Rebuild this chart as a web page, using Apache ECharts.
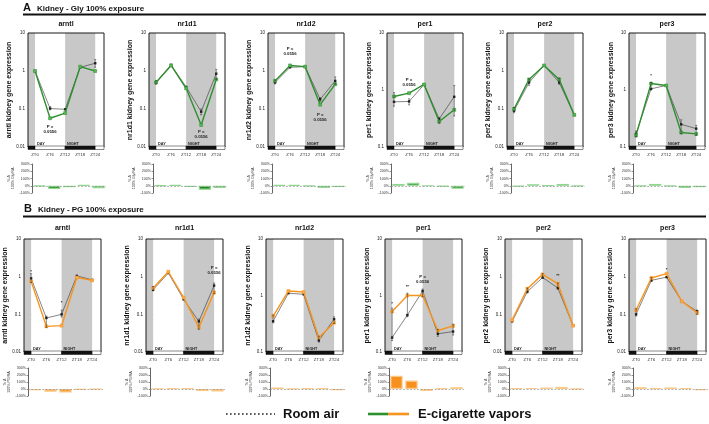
<!DOCTYPE html>
<html><head><meta charset="utf-8">
<script src="https://cdn.jsdelivr.net/npm/echarts@6/dist/echarts.min.js"></script>
<style>html,body{margin:0;padding:0;background:#fff}#c{width:709px;height:424px}</style>
</head><body><div id="c"></div>
<script>
// ---------- DATA ----------
const ZT = [0, 6, 12, 18, 24];
const genes = ['arntl', 'nr1d1', 'nr1d2', 'per1', 'per2', 'per3'];

// A: Gly 100% exposure (room air vs e-cig vapour), relative expression
const gly_arntl_ra = [1.0, 0.103, 0.098, 1.25, 1.6];
const gly_arntl_ev = [1.0, 0.057, 0.078, 1.3, 1.0];
const gly_nr1d1_ra = [0.5, 1.45, 0.38, 0.085, 0.85];
const gly_nr1d1_ev = [0.5, 1.4, 0.35, 0.038, 0.6];
const gly_nr1d2_ra = [0.5, 1.25, 1.3, 0.18, 0.55];
const gly_nr1d2_ev = [0.55, 1.4, 1.3, 0.13, 0.45];
const gly_per1_ra = [0.62, 0.63, 1.25, 0.31, 0.76];
const gly_per1_ev = [0.77, 0.88, 1.25, 0.28, 0.45];
const gly_per2_ra = [0.09, 0.5, 1.4, 0.5, 0.07];
const gly_per2_ev = [0.1, 0.6, 1.4, 0.6, 0.07];
const gly_per3_ra = [0.17, 1.05, 1.2, 0.25, 0.21];
const gly_per3_ev = [0.16, 1.3, 1.2, 0.18, 0.17];
// % change 100% Gly / RA
const gly_arntl_pct = [-5, -45, -20, 8, -35];
const gly_nr1d1_pct = [3, 8, -15, -55, -30];
const gly_nr1d2_pct = [10, 12, -3, -30, -18];
const gly_per1_pct = [25, 40, 0, -8, -40];
const gly_per2_pct = [-12, 20, 2, 25, -5];
const gly_per3_pct = [-3, 25, -5, -30, -20];

// B: PG 100% exposure
const pg_arntl_ra = [0.9, 0.08, 0.1, 1.05, 0.82];
const pg_arntl_ev = [0.75, 0.048, 0.05, 0.95, 0.8];
const pg_nr1d1_ra = [0.45, 1.25, 0.25, 0.065, 0.58];
const pg_nr1d1_ev = [0.5, 1.35, 0.28, 0.045, 0.38];
const pg_nr1d2_ra = [0.35, 1.1, 1.05, 0.16, 0.38];
const pg_nr1d2_ev = [0.43, 1.2, 1.15, 0.18, 0.33];
const pg_per1_ra = [0.18, 0.45, 1.2, 0.21, 0.23];
const pg_per1_ev = [0.52, 1.0, 1.0, 0.24, 0.29];
const pg_per2_ra = [0.065, 0.4, 0.95, 0.5, 0.05];
const pg_per2_ev = [0.07, 0.48, 1.15, 0.65, 0.05];
const pg_per3_ra = [0.1, 0.8, 0.97, 0.22, 0.12];
const pg_per3_ev = [0.13, 0.92, 1.2, 0.22, 0.11];
const pg_arntl_pct = [-15, -38, -50, -10, -2];
const pg_nr1d1_pct = [5, 8, 10, -30, -35];
const pg_nr1d2_pct = [22, 5, 8, 8, -18];
const pg_per1_pct = [190, 120, -28, 10, 25];
const pg_per2_pct = [10, 15, 20, 30, 2];
const pg_per3_pct = [25, 12, 22, 8, -15];

// error bars: [ZT, low, high]
const gly_arntl_err = [[24, 1.25, 2.0], [6, 0.095, 0.115]];
const gly_nr1d1_err = [[24, 0.6, 1.1], [18, 0.07, 0.1], [0, 0.45, 0.56]];
const gly_nr1d2_err = [[24, 0.45, 0.7], [18, 0.16, 0.2], [0, 0.46, 0.58]];
const gly_per1_err = [[0, 0.52, 0.9], [6, 0.55, 0.7], [24, 0.35, 1.2], [18, 0.26, 0.33]];
const gly_per2_err = [[6, 0.42, 0.62], [0, 0.08, 0.11], [18, 0.45, 0.65]];
const gly_per3_err = [[18, 0.17, 0.3], [24, 0.16, 0.24], [0, 0.15, 0.19], [6, 1.0, 1.35]];
const pg_arntl_err = [[0, 0.7, 1.2], [12, 0.085, 0.13], [6, 0.045, 0.09]];
const pg_nr1d1_err = [[24, 0.35, 0.68], [18, 0.04, 0.075], [0, 0.42, 0.55]];
const pg_nr1d2_err = [[24, 0.32, 0.42], [0, 0.33, 0.45], [18, 0.15, 0.19]];
const pg_per1_err = [[0, 0.16, 0.6], [6, 0.42, 1.1], [12, 0.95, 1.3], [18, 0.19, 0.25], [24, 0.2, 0.31]];
const pg_per2_err = [[6, 0.37, 0.5], [18, 0.47, 0.68], [12, 0.9, 1.2]];
const pg_per3_err = [[0, 0.09, 0.14], [6, 0.75, 0.95], [24, 0.1, 0.13]];

// annotations: [ZT, y, text]
const gly_arntl_note = [[6, 0.03, 'P =\n0.0556']];
const gly_nr1d1_note = [[18, 0.021, 'P =\n0.0556']];
const gly_nr1d2_note = [[6, 3.2, 'P =\n0.0556'], [18, 0.06, 'P =\n0.0556']];
const gly_per1_note = [[6, 1.35, 'P =\n0.0556']];
const gly_per2_note = [];
const gly_per3_note = [[6, 1.75, '*']];
const pg_arntl_note = [[0, 1.35, '*'], [12, 0.2, '*']];
const pg_nr1d1_note = [[24, 1.5, 'P =\n0.0556']];
const pg_nr1d2_note = [];
const pg_per1_note = [[0, 0.72, '*'], [6, 1.4, '**'], [12, 1.9, 'P =\n0.0556']];
const pg_per2_note = [[18, 1.05, '**']];
const pg_per3_note = [[12, 1.55, '*']];

const gly_ymin = [0.01, 0.01, 0.01, 0.1, 0.01, 0.1];
const pg_ymin = [0.01, 0.01, 0.1, 0.1, 0.01, 0.01];

const lightDark = [[-2.8, 0, 1, 'dark'], [0, 12, 0, 'DAY'], [12, 24, 1, 'NIGHT'], [24, 27.5, 0, 'light']];

// ---------- LAYOUT / STYLE ----------
const FONT = '"Liberation Sans", Arial, Helvetica, sans-serif';
const XMIN = -2.8, XMAX = 27.5;
const rowA = {lefts: [28, 149, 268, 387, 507, 629], w: 76, top: 33, h: 114, btop: 164, bh: 29, titleY: 24,
  color: '#2e8f2e', mk: '#56b556', barColor: '#1f8c1f', barBorder: '#8fd68f', pctName: '% Δ\n100% Gly/RA'};
const rowB = {lefts: [24, 146, 266, 385, 505, 629], w: 77, top: 239, h: 113, btop: 368, bh: 28, titleY: 228,
  color: '#f7941d', mk: '#f9a94a', barColor: '#f7901e', barBorder: '#fcc885', pctName: '% Δ\n100% PG/RA'};

const D = {
  gly: {ra: [gly_arntl_ra, gly_nr1d1_ra, gly_nr1d2_ra, gly_per1_ra, gly_per2_ra, gly_per3_ra],
        ev: [gly_arntl_ev, gly_nr1d1_ev, gly_nr1d2_ev, gly_per1_ev, gly_per2_ev, gly_per3_ev],
        pct: [gly_arntl_pct, gly_nr1d1_pct, gly_nr1d2_pct, gly_per1_pct, gly_per2_pct, gly_per3_pct],
        err: [gly_arntl_err, gly_nr1d1_err, gly_nr1d2_err, gly_per1_err, gly_per2_err, gly_per3_err],
        note: [gly_arntl_note, gly_nr1d1_note, gly_nr1d2_note, gly_per1_note, gly_per2_note, gly_per3_note],
        ymin: gly_ymin},
  pg: {ra: [pg_arntl_ra, pg_nr1d1_ra, pg_nr1d2_ra, pg_per1_ra, pg_per2_ra, pg_per3_ra],
       ev: [pg_arntl_ev, pg_nr1d1_ev, pg_nr1d2_ev, pg_per1_ev, pg_per2_ev, pg_per3_ev],
       pct: [pg_arntl_pct, pg_nr1d1_pct, pg_nr1d2_pct, pg_per1_pct, pg_per2_pct, pg_per3_pct],
       err: [pg_arntl_err, pg_nr1d1_err, pg_nr1d2_err, pg_per1_err, pg_per2_err, pg_per3_err],
       note: [pg_arntl_note, pg_nr1d1_note, pg_nr1d2_note, pg_per1_note, pg_per2_note, pg_per3_note],
       ymin: pg_ymin}
};

const grids = [], xAxis = [], yAxis = [], series = [], graphic = [];
const fmtLog = v => String(parseFloat(Number(v).toPrecision(2)));

function addPanel(row, set, k) {
  const L = row.lefts[k], ymin = set.ymin[k];
  const gi = grids.length;
  grids.push({left: L, top: row.top, width: row.w, height: row.h, show: true, borderColor: '#1a1a1a',
    borderWidth: 1, backgroundColor: 'rgba(0,0,0,0)', z: 10, containLabel: false});
  xAxis.push({gridIndex: gi, type: 'value', min: XMIN, max: XMAX, splitLine: {show: false},
    axisLine: {show: false}, axisTick: {show: false},
    axisLabel: {customValues: ZT, formatter: v => 'ZT' + v, fontSize: 4.3, margin: 6, color: '#333', fontFamily: FONT}});
  yAxis.push({gridIndex: gi, type: 'log', logBase: 10, min: ymin, max: 10, splitLine: {show: false},
    axisLine: {show: false}, axisTick: {show: true, length: 2, lineStyle: {color: '#222', width: 0.6}},
    minorTick: {show: true, splitNumber: 4, length: 1.2, lineStyle: {color: '#333', width: 0.4}},
    axisLabel: {fontSize: 4.5, margin: 3, color: '#222', formatter: fmtLog, fontFamily: FONT},
    name: genes[k] + ' kidney gene expression', nameLocation: 'middle', nameGap: 14,
    nameTextStyle: {fontSize: 7, fontWeight: 'bold', color: '#111', fontFamily: FONT}});
  const pts = arr => ZT.map((x, i) => [x, arr[i]]);
  // room air line with light/dark background
  series.push({type: 'line', xAxisIndex: gi, yAxisIndex: gi, data: pts(set.ra[k]), z: 3,
    lineStyle: {color: '#333', width: 0.6}, symbol: 'rect', symbolSize: 2.4, itemStyle: {color: '#222'},
    silent: true, animation: false,
    markArea: {silent: true, itemStyle: {color: '#c8c8c8'},
      data: [[{xAxis: XMIN}, {xAxis: 0}], [{xAxis: 12}, {xAxis: 24}]]}});
  // vapour line
  series.push({type: 'line', xAxisIndex: gi, yAxisIndex: gi, data: pts(set.ev[k]), z: 4,
    lineStyle: {color: row.color, width: 1.4}, symbol: 'rect', symbolSize: 3,
    itemStyle: {color: row.mk, borderColor: row.color, borderWidth: 0.5}, silent: true, animation: false,
    markPoint: {silent: true, symbol: 'circle', symbolSize: 1, itemStyle: {color: 'rgba(0,0,0,0)'},
      label: {show: true, position: 'inside', formatter: '{b}', fontSize: 4.3, lineHeight: 5,
        fontWeight: 'bold', color: '#222', fontFamily: FONT},
      data: set.note[k].map(n => ({name: n[2], coord: [n[0], n[1]]}))}});
  // error bars
  series.push({type: 'custom', xAxisIndex: gi, yAxisIndex: gi, data: set.err[k], z: 5, silent: true,
    animation: false, encode: {x: 0, y: [1, 2]},
    renderItem: (p, api) => {
      const a = api.coord([api.value(0), api.value(1)]), b = api.coord([api.value(0), api.value(2)]);
      const st = {stroke: '#222', lineWidth: 0.5};
      return {type: 'group', children: [
        {type: 'line', shape: {x1: a[0], y1: a[1], x2: b[0], y2: b[1]}, style: st},
        {type: 'line', shape: {x1: a[0] - 1, y1: a[1], x2: a[0] + 1, y2: a[1]}, style: st},
        {type: 'line', shape: {x1: b[0] - 1, y1: b[1], x2: b[0] + 1, y2: b[1]}, style: st}]};
    }});
  // light/dark strip
  series.push({type: 'custom', xAxisIndex: gi, yAxisIndex: gi, z: 11, silent: true, animation: false, clip: false,
    data: lightDark.map(s => [s[0], ymin, s[1], s[2]]), encode: {x: [0, 2], y: 1},
    renderItem: (p, api) => {
      const a = api.coord([api.value(0), api.value(1)]), b = api.coord([api.value(2), api.value(1)]);
      const dark = api.value(3) === 1;
      const lab = lightDark[p.dataIndex][3];
      const ch = [{type: 'rect', shape: {x: a[0], y: a[1] - 1, width: b[0] - a[0], height: 3.5},
        style: {fill: dark ? '#111' : '#fff', stroke: '#111', lineWidth: 0.5}}];
      if (lab === 'DAY' || lab === 'NIGHT') ch.push({type: 'text', x: a[0] + 2, y: a[1] - 1.5,
        style: {text: lab, fontSize: 3.8, fontWeight: 'bold', fill: '#222', verticalAlign: 'bottom', fontFamily: FONT}});
      return {type: 'group', children: ch};
    }});
  // % change bars
  const bi = grids.length;
  grids.push({left: L + 4, top: row.btop, width: row.w - 2, height: row.bh});
  xAxis.push({gridIndex: bi, type: 'category', data: ZT.map(z => 'ZT' + z), show: false, boundaryGap: true});
  yAxis.push({gridIndex: bi, type: 'value', min: -100, max: 300, interval: 100, splitLine: {show: false},
    axisLine: {show: true, lineStyle: {color: '#222', width: 0.7}},
    axisTick: {show: true, length: 1.5, lineStyle: {color: '#222', width: 0.5}},
    axisLabel: {formatter: '{value}%', fontSize: 3.6, margin: 2, color: '#333', fontFamily: FONT},
    name: row.pctName, nameLocation: 'middle', nameGap: 12,
    nameTextStyle: {fontSize: 3.6, color: '#333', lineHeight: 4.5, fontFamily: FONT}});
  series.push({type: 'bar', xAxisIndex: bi, yAxisIndex: bi, data: set.pct[k], barCategoryGap: '18%',
    itemStyle: {color: row.barColor, borderColor: row.barBorder, borderWidth: 1.2}, silent: true, animation: false,
    markLine: {silent: true, symbol: 'none', label: {show: false}, animation: false,
      lineStyle: {color: '#888', type: [2, 1.5], width: 0.6}, data: [{yAxis: 0}]}});
  // panel title
  graphic.push({type: 'text', x: L + row.w / 2, y: row.titleY,
    style: {text: genes[k], fontSize: 7, fontWeight: 'bold', fill: '#111', align: 'center', verticalAlign: 'middle', fontFamily: FONT}});
}

for (let k = 0; k < 6; k++) addPanel(rowA, D.gly, k);
for (let k = 0; k < 6; k++) addPanel(rowB, D.pg, k);

// section headers
graphic.push(
  {type: 'text', x: 23, y: 8, style: {text: 'A', fontSize: 11, fontWeight: 'bold', fill: '#111', verticalAlign: 'middle', fontFamily: FONT}},
  {type: 'text', x: 37, y: 8.5, style: {text: 'Kidney - Gly 100% exposure', fontSize: 8, fontWeight: 'bold', fill: '#111', verticalAlign: 'middle', fontFamily: FONT}},
  {type: 'line', shape: {x1: 23, y1: 14.5, x2: 706, y2: 14.5}, style: {stroke: '#111', lineWidth: 1.8}},
  {type: 'text', x: 24, y: 209, style: {text: 'B', fontSize: 11, fontWeight: 'bold', fill: '#111', verticalAlign: 'middle', fontFamily: FONT}},
  {type: 'text', x: 38, y: 209.5, style: {text: 'Kidney - PG 100% exposure', fontSize: 8, fontWeight: 'bold', fill: '#111', verticalAlign: 'middle', fontFamily: FONT}},
  {type: 'line', shape: {x1: 23, y1: 216.5, x2: 706, y2: 216.5}, style: {stroke: '#111', lineWidth: 1.8}},
  // legend
  {type: 'line', shape: {x1: 226, y1: 414, x2: 275, y2: 414}, style: {stroke: '#222', lineWidth: 1.6, lineDash: [1.6, 2.4]}},
  {type: 'text', x: 283, y: 414, style: {text: 'Room air', fontSize: 13, fontWeight: 'bold', fill: '#111', verticalAlign: 'middle', fontFamily: FONT}},
  {type: 'line', shape: {x1: 368, y1: 414, x2: 388, y2: 414}, style: {stroke: '#2e8f2e', lineWidth: 2.6}},
  {type: 'line', shape: {x1: 388, y1: 414, x2: 409, y2: 414}, style: {stroke: '#f7941d', lineWidth: 2.6}},
  {type: 'text', x: 418, y: 414, style: {text: 'E-cigarette vapors', fontSize: 13, fontWeight: 'bold', fill: '#111', verticalAlign: 'middle', fontFamily: FONT}}
);

const chart = echarts.init(document.getElementById('c'));
chart.setOption({animation: false, backgroundColor: '#fff', textStyle: {fontFamily: FONT},
  grid: grids, xAxis: xAxis, yAxis: yAxis, series: series, graphic: graphic});
</script></body></html>
